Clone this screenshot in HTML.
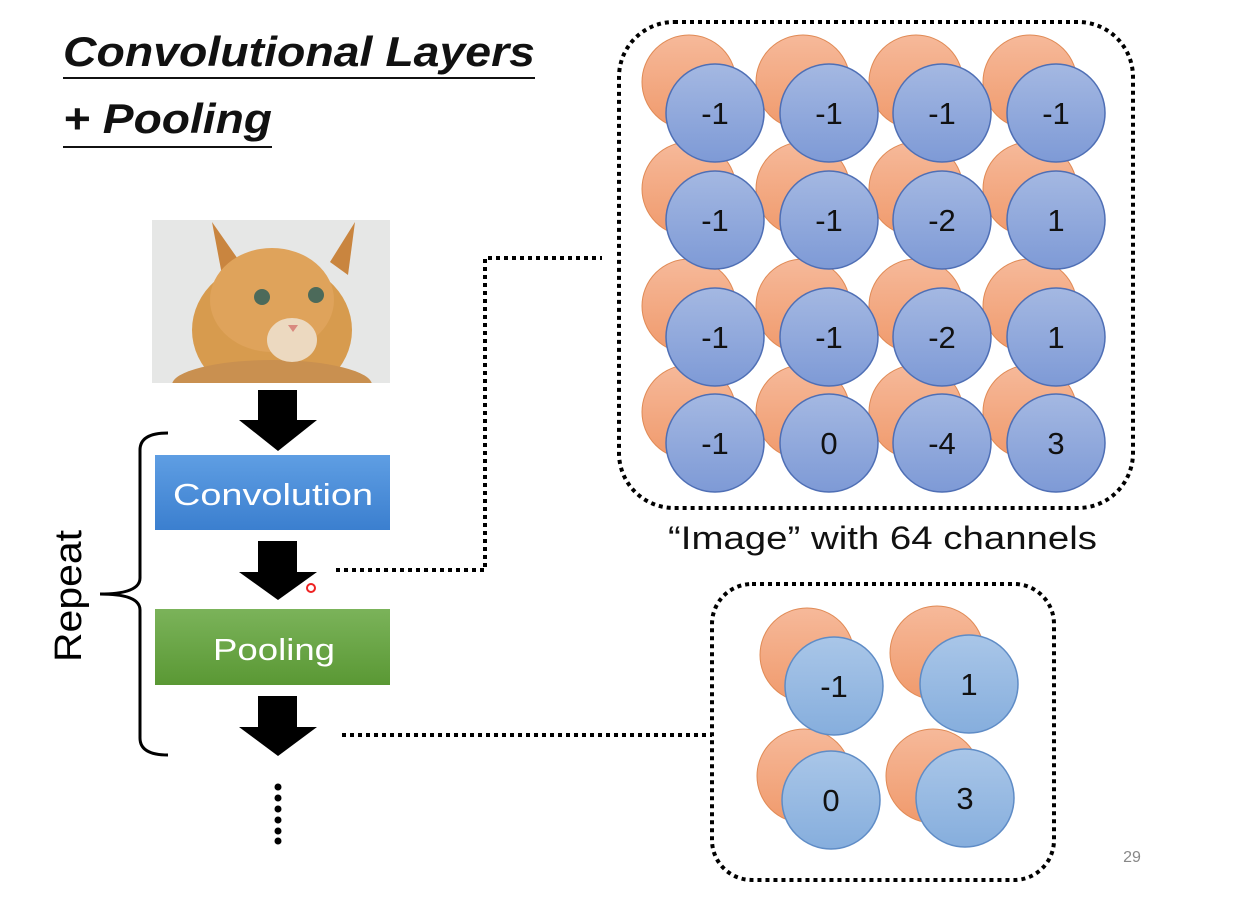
<!DOCTYPE html>
<html><head><meta charset="utf-8"><style>
body{margin:0;width:1243px;height:911px;background:#fff;overflow:hidden;font-family:"Liberation Sans","DejaVu Sans",sans-serif}
</style></head><body>
<svg width="1243" height="911" xmlns="http://www.w3.org/2000/svg" style="position:absolute;left:0;top:0">
<defs>
<linearGradient id="bl" x1="0" y1="0" x2="0" y2="1"><stop offset="0" stop-color="#a4b8e2"/><stop offset="1" stop-color="#7e9ad6"/></linearGradient>
<linearGradient id="bl2" x1="0" y1="0" x2="0" y2="1"><stop offset="0" stop-color="#a9c6e8"/><stop offset="1" stop-color="#86aedd"/></linearGradient>
<linearGradient id="or" x1="0" y1="0" x2="0" y2="1"><stop offset="0" stop-color="#f6b99a"/><stop offset="1" stop-color="#f09a6c"/></linearGradient>
<linearGradient id="cv" x1="0" y1="0" x2="0" y2="1"><stop offset="0" stop-color="#5f9ee3"/><stop offset="1" stop-color="#3b7fcf"/></linearGradient>
<linearGradient id="pl" x1="0" y1="0" x2="0" y2="1"><stop offset="0" stop-color="#7bb35a"/><stop offset="1" stop-color="#5a9834"/></linearGradient>
<clipPath id="cat"><rect x="152" y="220" width="238" height="163"/></clipPath>
</defs>
<text x="63" y="66" font-size="42" font-weight="bold" font-style="italic" fill="#111" textLength="472" lengthAdjust="spacingAndGlyphs">Convolutional Layers</text>
<line x1="63" y1="78" x2="535" y2="78" stroke="#111" stroke-width="2"/>
<text x="63" y="133" font-size="42" font-weight="bold" font-style="italic" fill="#111" textLength="209" lengthAdjust="spacingAndGlyphs">+ Pooling</text>
<line x1="63" y1="147" x2="272" y2="147" stroke="#111" stroke-width="2"/>
<!-- cat -->
<rect x="152" y="220" width="238" height="163" fill="#e6e7e6"/>
<g clip-path="url(#cat)">
<ellipse cx="272" cy="330" rx="80" ry="70" fill="#d79b4e"/>
<ellipse cx="272" cy="385" rx="100" ry="25" fill="#c99050"/>
<polygon points="212,222 240,262 222,275" fill="#c9853f"/>
<polygon points="355,222 330,262 348,275" fill="#c9853f"/>
<ellipse cx="272" cy="300" rx="62" ry="52" fill="#dfa35b"/>
<circle cx="262" cy="297" r="8" fill="#4c6a5a"/><circle cx="316" cy="295" r="8" fill="#4c6a5a"/>
<ellipse cx="292" cy="340" rx="25" ry="22" fill="#ecd9c0"/>
<polygon points="288,325 298,325 293,332" fill="#d9897f"/>
</g>
<!-- arrows -->
<polygon points="258,390 297,390 297,420 317,420 278,451 239,420 258,420" fill="#000"/>
<polygon points="258,541 297,541 297,572 317,572 278,600 239,572 258,572" fill="#000"/>
<polygon points="258,696 297,696 297,727 317,727 278,756 239,727 258,727" fill="#000"/>
<circle cx="311" cy="588" r="4" fill="none" stroke="#e22" stroke-width="2"/>
<!-- boxes -->
<rect x="155" y="455" width="235" height="75" fill="url(#cv)"/>
<text x="173" y="505" font-size="31" fill="#fff" textLength="200" lengthAdjust="spacingAndGlyphs">Convolution</text>
<rect x="155" y="609" width="235" height="76" fill="url(#pl)"/>
<text x="213" y="660" font-size="31" fill="#fff" textLength="122" lengthAdjust="spacingAndGlyphs">Pooling</text>
<!-- brace -->
<path d="M168,433 Q140,433 140,450 L140,578 Q140,594 100,594 Q140,594 140,610 L140,738 Q140,755 168,755" fill="none" stroke="#000" stroke-width="3"/>
<text transform="translate(81,662) rotate(-90)" font-size="38" fill="#000" textLength="132" lengthAdjust="spacingAndGlyphs">Repeat</text>
<!-- dotted connectors -->
<g stroke="#000" stroke-width="4" stroke-dasharray="4,4" fill="none">
<polyline points="336,570 485,570 485,258 602,258"/>
<line x1="342" y1="735" x2="712" y2="735"/>
<rect x="619" y="22" width="514" height="486" rx="55"/>
<rect x="712" y="584" width="342" height="296" rx="40"/>
</g>
<g fill="#000">
<circle cx="278" cy="787" r="3.5"/><circle cx="278" cy="798" r="3.5"/><circle cx="278" cy="809" r="3.5"/><circle cx="278" cy="820" r="3.5"/><circle cx="278" cy="831" r="3.5"/><circle cx="278" cy="841" r="3.5"/>
</g>
<!-- big grid -->
<g stroke="#e08a55" stroke-width="1" fill="url(#or)">
<circle cx="689" cy="82" r="47"/><circle cx="803" cy="82" r="47"/><circle cx="916" cy="82" r="47"/><circle cx="1030" cy="82" r="47"/>
<circle cx="689" cy="189" r="47"/><circle cx="803" cy="189" r="47"/><circle cx="916" cy="189" r="47"/><circle cx="1030" cy="189" r="47"/>
<circle cx="689" cy="306" r="47"/><circle cx="803" cy="306" r="47"/><circle cx="916" cy="306" r="47"/><circle cx="1030" cy="306" r="47"/>
<circle cx="689" cy="412" r="47"/><circle cx="803" cy="412" r="47"/><circle cx="916" cy="412" r="47"/><circle cx="1030" cy="412" r="47"/>
</g>
<g stroke="#4f6fb5" stroke-width="1.5" fill="url(#bl)">
<circle cx="715" cy="113" r="49"/><circle cx="829" cy="113" r="49"/><circle cx="942" cy="113" r="49"/><circle cx="1056" cy="113" r="49"/>
<circle cx="715" cy="220" r="49"/><circle cx="829" cy="220" r="49"/><circle cx="942" cy="220" r="49"/><circle cx="1056" cy="220" r="49"/>
<circle cx="715" cy="337" r="49"/><circle cx="829" cy="337" r="49"/><circle cx="942" cy="337" r="49"/><circle cx="1056" cy="337" r="49"/>
<circle cx="715" cy="443" r="49"/><circle cx="829" cy="443" r="49"/><circle cx="942" cy="443" r="49"/><circle cx="1056" cy="443" r="49"/>
</g>
<g font-size="31" text-anchor="middle" fill="#111">
<text x="715" y="124">-1</text><text x="829" y="124">-1</text><text x="942" y="124">-1</text><text x="1056" y="124">-1</text>
<text x="715" y="231">-1</text><text x="829" y="231">-1</text><text x="942" y="231">-2</text><text x="1056" y="231">1</text>
<text x="715" y="348">-1</text><text x="829" y="348">-1</text><text x="942" y="348">-2</text><text x="1056" y="348">1</text>
<text x="715" y="454">-1</text><text x="829" y="454">0</text><text x="942" y="454">-4</text><text x="1056" y="454">3</text>
</g>
<text x="668" y="549" font-size="32" fill="#111" textLength="429" lengthAdjust="spacingAndGlyphs">“Image” with 64 channels</text>
<!-- small grid -->
<g stroke="#e08a55" stroke-width="1" fill="url(#or)">
<circle cx="807" cy="655" r="47"/><circle cx="937" cy="653" r="47"/>
<circle cx="804" cy="776" r="47"/><circle cx="933" cy="776" r="47"/>
</g>
<g stroke="#5f8cc6" stroke-width="1.5" fill="url(#bl2)">
<circle cx="834" cy="686" r="49"/><circle cx="969" cy="684" r="49"/>
<circle cx="831" cy="800" r="49"/><circle cx="965" cy="798" r="49"/>
</g>
<g font-size="31" text-anchor="middle" fill="#111">
<text x="834" y="697">-1</text><text x="969" y="695">1</text>
<text x="831" y="811">0</text><text x="965" y="809">3</text>
</g>
<text x="1132" y="862" font-size="16" text-anchor="middle" fill="#888">29</text>
</svg>
</body></html>
